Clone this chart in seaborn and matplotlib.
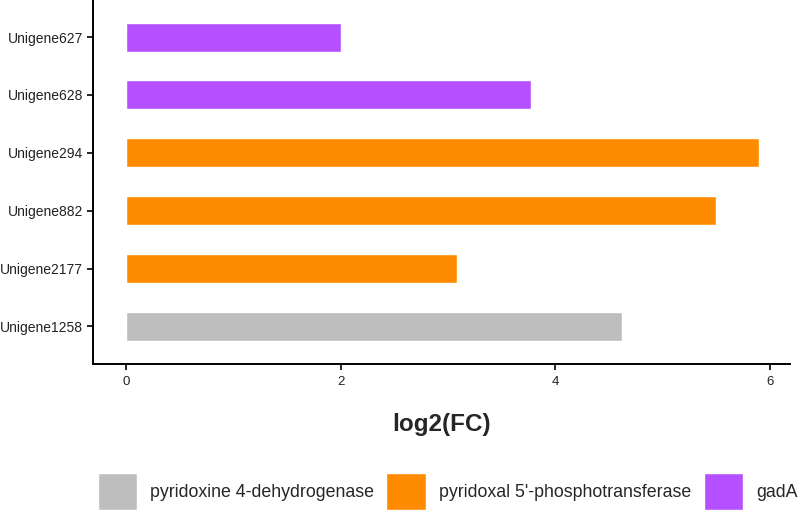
import matplotlib
matplotlib.use("Agg")
import matplotlib.pyplot as plt
import pandas as pd
import seaborn as sns

genes = ["Unigene627", "Unigene628", "Unigene294", "Unigene882", "Unigene2177", "Unigene1258"]
log2fc = [2.0, 3.78, 5.9, 5.5, 3.09, 4.62]
enzyme = ["gadA", "gadA",
          "pyridoxal 5'-phosphotransferase", "pyridoxal 5'-phosphotransferase",
          "pyridoxal 5'-phosphotransferase", "pyridoxine 4-dehydrogenase"]
hue_order = ["pyridoxine 4-dehydrogenase", "pyridoxal 5'-phosphotransferase", "gadA"]
colors = ["#BEBEBE", "#FF8C00", "#B450FF"]

df = pd.DataFrame({"gene": genes, "fc": log2fc, "enzyme": enzyme})

sns.set_style("white")
plt.rcParams["font.family"] = ["Liberation Sans", "DejaVu Sans"]

fig = plt.figure(figsize=(8, 5.12), dpi=100)
ax = fig.add_axes([0.116, 0.29, 0.8715, 0.71])

sns.barplot(data=df, x="fc", y="gene", hue="enzyme", hue_order=hue_order,
            palette=colors, order=genes, dodge=False, width=0.5,
            saturation=1, orient="h", ax=ax, legend=True)

ax.set_xlim(-0.31, 6.19)
ax.set_ylim(5.64, -0.64)
ax.set_xticks([0, 2, 4, 6])
ax.tick_params(axis="both", length=4, width=1.2, color="black",
               labelcolor="#222222", direction="out", bottom=True, left=True)
ax.tick_params(axis="y", labelsize=10, pad=3)
ax.tick_params(axis="x", labelsize=9.5, pad=5)
for side in ["top", "right"]:
    ax.spines[side].set_visible(False)
for side in ["left", "bottom"]:
    ax.spines[side].set_linewidth(1.4)
    ax.spines[side].set_color("black")

ax.set_ylabel("")
ax.set_xlabel("log2(FC)", fontsize=17.5, fontweight="bold", labelpad=18)

handles, labels = ax.get_legend_handles_labels()
ax.get_legend().remove()
fig.legend(handles, labels, loc="lower left", bbox_to_anchor=(0.102, -0.028),
           ncol=3, frameon=False, fontsize=12.8, handlelength=2.2, handleheight=2.85,
           handletextpad=0.75, columnspacing=0.7)

fig.savefig("out.png", dpi=100)
